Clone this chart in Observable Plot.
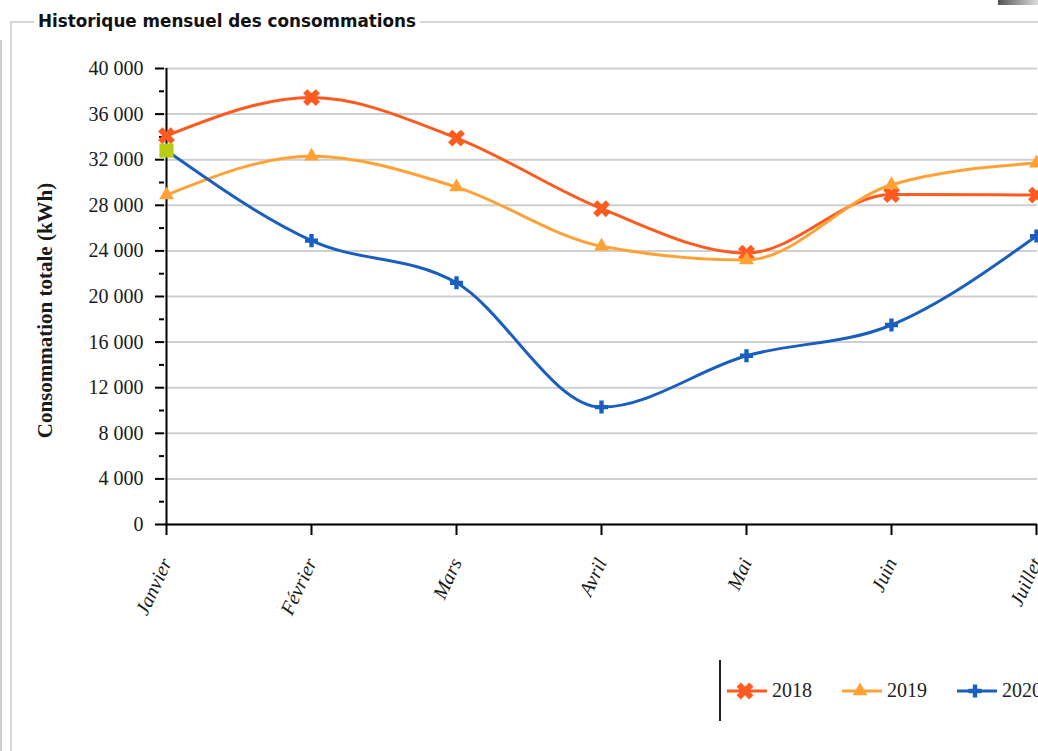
<!DOCTYPE html>
<html>
<head>
<meta charset="utf-8">
<script src="https://cdn.jsdelivr.net/npm/d3@7"></script>
<script src="https://cdn.jsdelivr.net/npm/@observablehq/plot@0.6"></script>
<style>
  html, body { margin: 0; padding: 0; background: #fff; overflow: hidden; width: 1038px; height: 751px; }
  #wrap { position: relative; width: 1038px; height: 751px; overflow: hidden; }
  .gline { position: absolute; background: #d6d6d6; }
  #title { position: absolute; left: 38px; top: 11px; font: bold 16.8px "DejaVu Sans", sans-serif; color: #111; white-space: nowrap; }
  #chart { position: absolute; left: 0; top: 0; }
  .legtext { position: absolute; font: 20px "Liberation Serif", serif; color: #222; }
  #legbar { position: absolute; left: 719px; top: 660px; width: 2px; height: 61px; background: #222; }
  #corner { position: absolute; left: 998px; top: 0; width: 40px; height: 5px; background: linear-gradient(to right, #555, #ddd); }
</style>
</head>
<body>
<div id="wrap">
  <div class="gline" style="left:0;top:40px;width:2px;height:711px;background:#cfcfcf"></div>
  <div class="gline" style="left:10px;top:21px;width:24px;height:2px"></div>
  <div class="gline" style="left:420px;top:21px;width:618px;height:2px"></div>
  <div class="gline" style="left:10px;top:21px;width:2px;height:730px"></div>
  <div id="corner"></div>
  <div id="title">Historique mensuel des consommations</div>
  <div id="chart"></div>
  <div id="legbar"></div>
  <div id="legend"></div>
</div>
<script>
// ---- data ----
const months = ["Janvier", "Février", "Mars", "Avril", "Mai", "Juin", "Juillet"];
const years = ["2018", "2019", "2020"];
const values2018 = [34100, 37450, 33900, 27700, 23800, 28950, 28900];
const values2019 = [28900, 32300, 29600, 24400, 23200, 29800, 31700];
const values2020 = [32800, 24900, 21200, 10300, 14800, 17500, 25300];
const highlightMonths = ["Janvier"];
const highlightValues = [32800];
const yTicks = [0, 4000, 8000, 12000, 16000, 20000, 24000, 28000, 32000, 36000, 40000];
const yMinorTicks = [2000, 6000, 10000, 14000, 18000, 22000, 26000, 30000, 34000, 38000];
const yLabel = "Consommation totale (kWh)";
const colors = ["#ff5a1f", "#ffa236", "#1a5fbe"];
const highlightColor = "#b8cc14";

const seriesValues = [values2018, values2019, values2020];
const series = years.map((yr, i) => months.map((m, j) => ({year: yr, month: m, value: seriesValues[i][j]})));
const highlight = highlightMonths.map((m, i) => ({month: m, value: highlightValues[i]}));

const fmt = d => d3.format(",")(d).replace(/,/g, " ");

const symbols = [
  {symbol: "cross", r: 7.5, rotate: 45},
  {symbol: "triangle", r: 5.5, rotate: 0},
  {symbol: "cross", r: 5.5, rotate: 0}
];

const marks = [
  Plot.gridY(yTicks, {stroke: "#cfcfcf", strokeOpacity: 1, strokeWidth: 2}),
  Plot.axisY(yMinorTicks, {tickSize: 5, tickFormat: () => "", stroke: "#000", strokeWidth: 2, label: null}),
  Plot.axisY(yTicks, {tickSize: 9, tickPadding: 12, tickFormat: fmt, fontSize: 20, fill: "#1a1a1a", stroke: "#000", strokeWidth: 2, label: null}),
  Plot.axisX({tickSize: 11, tickPadding: 24, tickRotate: -65, fontSize: 20, fontStyle: "italic", fill: "#1a1a1a", stroke: "#000", strokeWidth: 2, label: null}),
  Plot.ruleX([months[0]], {stroke: "#000", strokeWidth: 2}),
  Plot.ruleY([0], {stroke: "#000", strokeWidth: 2}),
  Plot.text([yLabel], {frameAnchor: "left", dx: -119, dy: 14, rotate: -90, textAnchor: "middle", fontSize: 21, fontWeight: "bold", fill: "#1a1a1a"})
];
series.forEach((s, i) => {
  marks.push(Plot.line(s, {x: "month", y: "value", stroke: colors[i], strokeWidth: 3, curve: "monotone-x"}));
  marks.push(Plot.dot(s, {x: "month", y: "value", symbol: symbols[i].symbol, r: symbols[i].r, rotate: symbols[i].rotate, fill: colors[i], stroke: "none"}));
});
marks.push(Plot.dot(highlight, {x: "month", y: "value", symbol: "square", r: 8, fill: highlightColor, stroke: "none"}));

const chart = Plot.plot({
  width: 1038,
  height: 650,
  marginLeft: 164,
  marginRight: 1,
  marginTop: 68,
  marginBottom: 126,
  x: {type: "point", domain: months, padding: 0},
  y: {domain: [0, 40000]},
  style: {fontFamily: "'Liberation Serif', serif", background: "transparent", overflow: "hidden"},
  marks
});
document.getElementById("chart").appendChild(chart);

// ---- legend ----
const legend = document.getElementById("legend");
const iconLeft = [727, 842, 957];
years.forEach((yr, i) => {
  const svg = d3.create("svg").attr("width", 40).attr("height", 20)
    .style("position", "absolute").style("left", iconLeft[i] + "px").style("top", "681px");
  svg.append("line").attr("x1", 0).attr("x2", 40).attr("y1", 10).attr("y2", 10)
    .attr("stroke", colors[i]).attr("stroke-width", 3);
  const symMap = {cross: d3.symbolCross, triangle: d3.symbolTriangle};
  svg.append("path")
    .attr("d", d3.symbol(symMap[symbols[i].symbol], Math.PI * symbols[i].r * symbols[i].r)())
    .attr("transform", `translate(18,10) rotate(${symbols[i].rotate})`)
    .attr("fill", colors[i]);
  legend.appendChild(svg.node());
  const t = document.createElement("div");
  t.className = "legtext";
  t.style.left = (iconLeft[i] + 45) + "px";
  t.style.top = "679px";
  t.textContent = yr;
  legend.appendChild(t);
});
</script>
</body>
</html>
